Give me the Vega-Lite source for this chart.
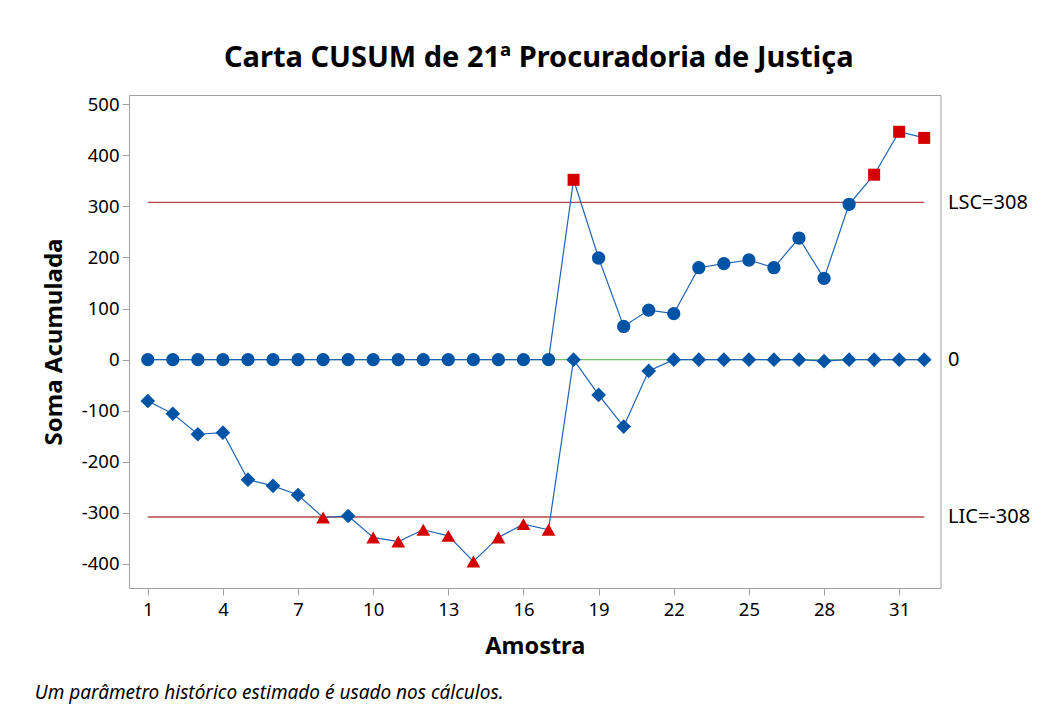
{
  "$schema": "https://vega.github.io/schema/vega-lite/v6.json",
  "background": "white",
  "padding": {"left": 34, "top": 43, "right": 20, "bottom": 10},
  "config": {
    "font": "Noto Sans",
    "view": {"stroke": "#a0a0a0", "strokeWidth": 1},
    "axis": {"grid": false, "domain": false, "tickColor": "#a0a0a0", "tickSize": 7, "labelFontSize": 18.5, "labelColor": "#000000", "titleColor": "#000000"}
  },
  "title": {"text": "Um parâmetro histórico estimado é usado nos cálculos.", "orient": "bottom", "anchor": "start", "fontSize": 19, "fontStyle": "italic", "fontWeight": "normal", "color": "#000000", "offset": 25, "dx": -7},
  "datasets": {
    "cusum": [
      {"amostra": 1, "serie": "Superior", "valor": 0, "estado": "dentro"},
      {"amostra": 2, "serie": "Superior", "valor": 0, "estado": "dentro"},
      {"amostra": 3, "serie": "Superior", "valor": 0, "estado": "dentro"},
      {"amostra": 4, "serie": "Superior", "valor": 0, "estado": "dentro"},
      {"amostra": 5, "serie": "Superior", "valor": 0, "estado": "dentro"},
      {"amostra": 6, "serie": "Superior", "valor": 0, "estado": "dentro"},
      {"amostra": 7, "serie": "Superior", "valor": 0, "estado": "dentro"},
      {"amostra": 8, "serie": "Superior", "valor": 0, "estado": "dentro"},
      {"amostra": 9, "serie": "Superior", "valor": 0, "estado": "dentro"},
      {"amostra": 10, "serie": "Superior", "valor": 0, "estado": "dentro"},
      {"amostra": 11, "serie": "Superior", "valor": 0, "estado": "dentro"},
      {"amostra": 12, "serie": "Superior", "valor": 0, "estado": "dentro"},
      {"amostra": 13, "serie": "Superior", "valor": 0, "estado": "dentro"},
      {"amostra": 14, "serie": "Superior", "valor": 0, "estado": "dentro"},
      {"amostra": 15, "serie": "Superior", "valor": 0, "estado": "dentro"},
      {"amostra": 16, "serie": "Superior", "valor": 0, "estado": "dentro"},
      {"amostra": 17, "serie": "Superior", "valor": 0, "estado": "dentro"},
      {"amostra": 18, "serie": "Superior", "valor": 352, "estado": "fora"},
      {"amostra": 19, "serie": "Superior", "valor": 199, "estado": "dentro"},
      {"amostra": 20, "serie": "Superior", "valor": 65, "estado": "dentro"},
      {"amostra": 21, "serie": "Superior", "valor": 97, "estado": "dentro"},
      {"amostra": 22, "serie": "Superior", "valor": 90, "estado": "dentro"},
      {"amostra": 23, "serie": "Superior", "valor": 180, "estado": "dentro"},
      {"amostra": 24, "serie": "Superior", "valor": 188, "estado": "dentro"},
      {"amostra": 25, "serie": "Superior", "valor": 195, "estado": "dentro"},
      {"amostra": 26, "serie": "Superior", "valor": 180, "estado": "dentro"},
      {"amostra": 27, "serie": "Superior", "valor": 238, "estado": "dentro"},
      {"amostra": 28, "serie": "Superior", "valor": 159, "estado": "dentro"},
      {"amostra": 29, "serie": "Superior", "valor": 304, "estado": "dentro"},
      {"amostra": 30, "serie": "Superior", "valor": 362, "estado": "fora"},
      {"amostra": 31, "serie": "Superior", "valor": 446, "estado": "fora"},
      {"amostra": 32, "serie": "Superior", "valor": 434, "estado": "fora"},
      {"amostra": 1, "serie": "Inferior", "valor": -81, "estado": "dentro"},
      {"amostra": 2, "serie": "Inferior", "valor": -106, "estado": "dentro"},
      {"amostra": 3, "serie": "Inferior", "valor": -146, "estado": "dentro"},
      {"amostra": 4, "serie": "Inferior", "valor": -143, "estado": "dentro"},
      {"amostra": 5, "serie": "Inferior", "valor": -235, "estado": "dentro"},
      {"amostra": 6, "serie": "Inferior", "valor": -247, "estado": "dentro"},
      {"amostra": 7, "serie": "Inferior", "valor": -265, "estado": "dentro"},
      {"amostra": 8, "serie": "Inferior", "valor": -309, "estado": "fora"},
      {"amostra": 9, "serie": "Inferior", "valor": -306, "estado": "dentro"},
      {"amostra": 10, "serie": "Inferior", "valor": -348, "estado": "fora"},
      {"amostra": 11, "serie": "Inferior", "valor": -356, "estado": "fora"},
      {"amostra": 12, "serie": "Inferior", "valor": -333, "estado": "fora"},
      {"amostra": 13, "serie": "Inferior", "valor": -345, "estado": "fora"},
      {"amostra": 14, "serie": "Inferior", "valor": -395, "estado": "fora"},
      {"amostra": 15, "serie": "Inferior", "valor": -348, "estado": "fora"},
      {"amostra": 16, "serie": "Inferior", "valor": -322, "estado": "fora"},
      {"amostra": 17, "serie": "Inferior", "valor": -333, "estado": "fora"},
      {"amostra": 18, "serie": "Inferior", "valor": 0, "estado": "dentro"},
      {"amostra": 19, "serie": "Inferior", "valor": -69, "estado": "dentro"},
      {"amostra": 20, "serie": "Inferior", "valor": -131, "estado": "dentro"},
      {"amostra": 21, "serie": "Inferior", "valor": -22, "estado": "dentro"},
      {"amostra": 22, "serie": "Inferior", "valor": 0, "estado": "dentro"},
      {"amostra": 23, "serie": "Inferior", "valor": 0, "estado": "dentro"},
      {"amostra": 24, "serie": "Inferior", "valor": 0, "estado": "dentro"},
      {"amostra": 25, "serie": "Inferior", "valor": 0, "estado": "dentro"},
      {"amostra": 26, "serie": "Inferior", "valor": 0, "estado": "dentro"},
      {"amostra": 27, "serie": "Inferior", "valor": 0, "estado": "dentro"},
      {"amostra": 28, "serie": "Inferior", "valor": -3, "estado": "dentro"},
      {"amostra": 29, "serie": "Inferior", "valor": 0, "estado": "dentro"},
      {"amostra": 30, "serie": "Inferior", "valor": 0, "estado": "dentro"},
      {"amostra": 31, "serie": "Inferior", "valor": 0, "estado": "dentro"},
      {"amostra": 32, "serie": "Inferior", "valor": 0, "estado": "dentro"}
    ],
    "limites": [
      {"linha": "LSC", "valor": 308},
      {"linha": "LC", "valor": 0},
      {"linha": "LIC", "valor": -308}
    ]
  },
  "vconcat": [
    {
      "title": {"text": "Carta CUSUM de 21ª Procuradoria de Justiça", "fontSize": 29, "fontWeight": "bold", "color": "#000000", "offset": 22, "anchor": "middle", "dx": 4},
      "width": 811.5,
      "height": 493,
      "resolve": {"axis": {"x": "independent", "y": "independent"}},
      "layer": [
        {
          "data": {"name": "limites"},
          "mark": {"type": "rule", "strokeWidth": 1.3},
          "encoding": {
            "x": {"datum": 1, "type": "quantitative", "scale": {"domain": [0.25, 32.65], "nice": false, "zero": false}, "axis": null},
            "x2": {"datum": 32},
            "y": {"field": "valor", "type": "quantitative", "scale": {"domain": [-447, 518], "nice": false, "zero": false},
                  "axis": {"orient": "right", "values": [308, 0, -308], "ticks": false, "domain": false, "title": null, "labelPadding": 7, "labelFontSize": 20,
                           "labelExpr": "datum.value == 308 ? 'LSC=308' : (datum.value == -308 ? 'LIC=-308' : '0')"}},
            "stroke": {"field": "linha", "type": "nominal", "scale": {"domain": ["LSC", "LC", "LIC"], "range": ["#b24848", "#74bb74", "#b24848"]}, "legend": null}
          }
        },
        {
          "data": {"name": "cusum"},
          "mark": {"type": "line", "strokeWidth": 1.2, "color": "#2064b4"},
          "encoding": {
            "x": {"field": "amostra", "type": "quantitative", "axis": null},
            "y": {"field": "valor", "type": "quantitative", "axis": null},
            "detail": {"field": "serie", "type": "nominal"}
          }
        },
        {
          "data": {"name": "cusum"},
          "transform": [{"filter": "datum.serie == 'Superior'"}],
          "mark": {"type": "point", "filled": true, "opacity": 1},
          "encoding": {
            "x": {"field": "amostra", "type": "quantitative",
                  "axis": {"values": [1, 4, 7, 10, 13, 16, 19, 22, 25, 28, 31], "title": "Amostra", "titleFontSize": 23.5, "titleFontWeight": "bold", "labelPadding": 5, "titlePadding": 16}},
            "y": {"field": "valor", "type": "quantitative",
                  "axis": {"values": [-400, -300, -200, -100, 0, 100, 200, 300, 400, 500], "labelExpr": "'' + datum.value", "title": "Soma Acumulada", "titleFontSize": 24, "titleFontWeight": "bold", "labelPadding": 3, "titlePadding": 15}},
            "shape": {"condition": {"test": "datum.estado == 'fora'", "value": "square"}, "value": "circle"},
            "fill": {"condition": {"test": "datum.estado == 'fora'", "value": "#d40000"}, "value": "#0054a6"},
            "size": {"condition": {"test": "datum.estado == 'fora'", "value": 144}, "value": 177}
          }
        },
        {
          "data": {"name": "cusum"},
          "transform": [{"filter": "datum.serie == 'Inferior'"}],
          "mark": {"type": "point", "filled": true, "opacity": 1},
          "encoding": {
            "x": {"field": "amostra", "type": "quantitative", "axis": null},
            "y": {"field": "valor", "type": "quantitative", "axis": null},
            "shape": {"condition": {"test": "datum.estado == 'fora'", "value": "triangle-up"}, "value": "diamond"},
            "fill": {"condition": {"test": "datum.estado == 'fora'", "value": "#d40000"}, "value": "#0054a6"},
            "size": {"condition": {"test": "datum.estado == 'fora'", "value": 190}, "value": 215}
          }
        }
      ]
    }
  ]
}
